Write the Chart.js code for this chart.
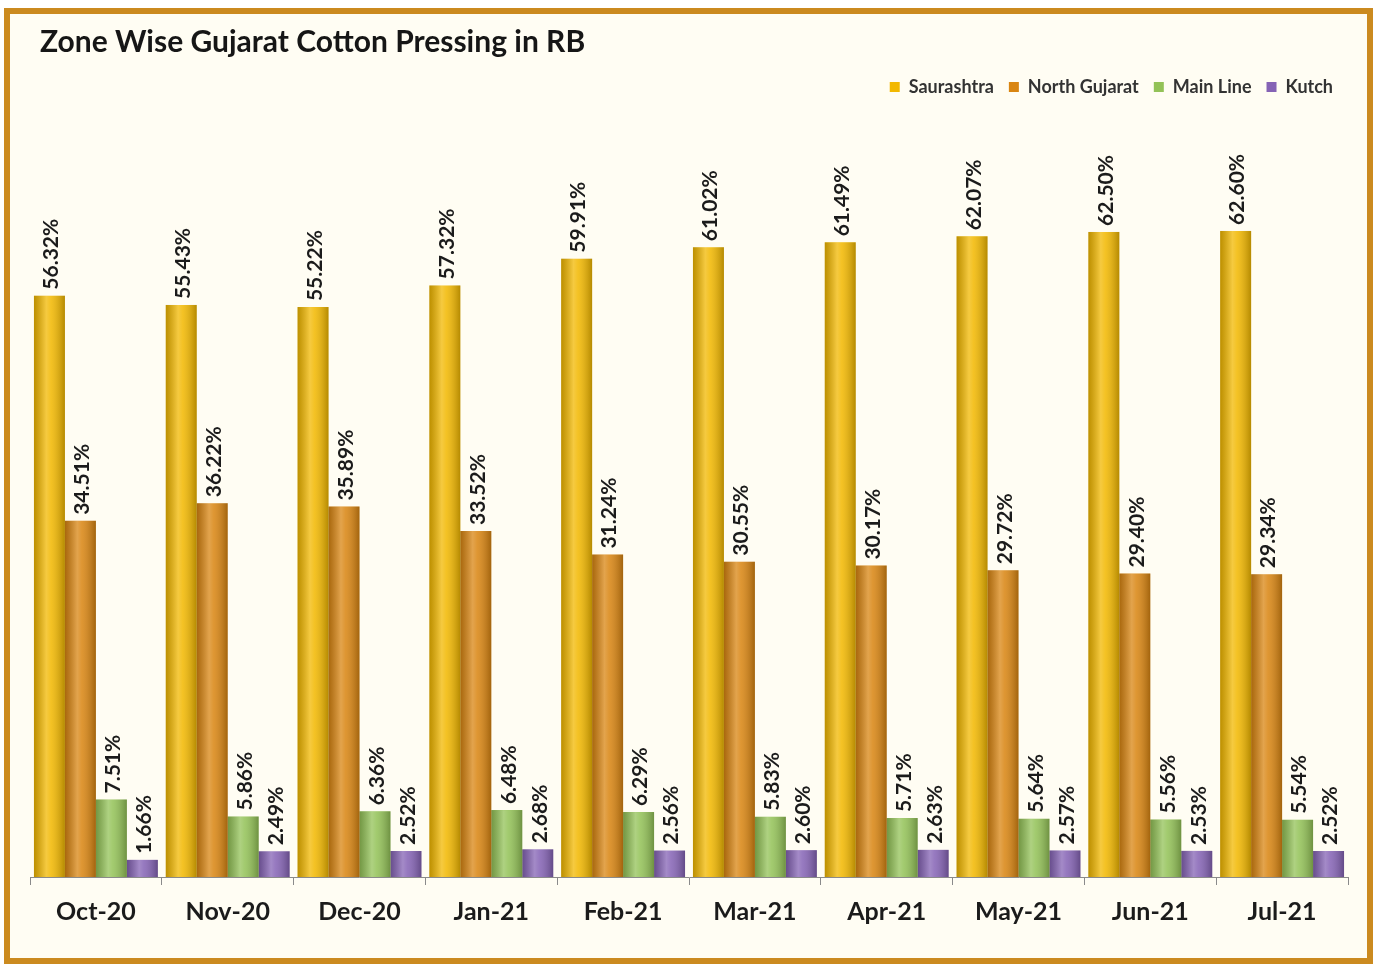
<!DOCTYPE html>
<html><head><meta charset="utf-8">
<script src="https://cdn.jsdelivr.net/npm/chart.js@4"></script>
<style>html,body{margin:0;padding:0;background:#fff;}#wrap{position:absolute;left:0;top:0;width:1378px;height:966px;}</style>
</head><body><div id="wrap"><canvas id="c" width="1378" height="966"></canvas></div>
<script>
const chartTitle = 'Zone Wise Gujarat Cotton Pressing in RB';
const categories = ['Oct-20','Nov-20','Dec-20','Jan-21','Feb-21','Mar-21','Apr-21','May-21','Jun-21','Jul-21'];
const saurashtra = [56.32,55.43,55.22,57.32,59.91,61.02,61.49,62.07,62.50,62.60];
const northGujarat = [34.51,36.22,35.89,33.52,31.24,30.55,30.17,29.72,29.40,29.34];
const mainLine = [7.51,5.86,6.36,6.48,6.29,5.83,5.71,5.64,5.56,5.54];
const kutch = [1.66,2.49,2.52,2.68,2.56,2.60,2.63,2.57,2.53,2.52];
const seriesNames = ['Saurashtra','North Gujarat','Main Line','Kutch'];
const seriesColors = ['#F2B800','#D98511','#93C257','#8563B5'];

const framePlugin = {
  id:'frame',
  beforeDraw(chart){
    const c = chart.ctx;
    c.save();
    c.fillStyle='#ffffff'; c.fillRect(0,0,chart.width,chart.height);
    c.fillStyle='#FFFDF3'; c.fillRect(7,11,1363,950);
    c.strokeStyle='#CB8A1F'; c.lineWidth=6; c.strokeRect(7,11,1363,950);
    c.font='bold 30px Lato'; c.fillStyle='#161616';
    c.textAlign='left'; c.textBaseline='middle';
    c.fillText(chartTitle,40,42);
    c.restore();
  }
};
const shadePlugin = {
  id:'shade',
  afterDatasetsDraw(chart){
    const c = chart.ctx;
    chart.data.datasets.forEach((ds,di)=>{
      const meta = chart.getDatasetMeta(di);
      meta.data.forEach((el,i)=>{
        const l = el.x - el.width/2, w = el.width, top = el.y, h = el.base - el.y;
        const g = c.createLinearGradient(l,0,l+w,0);
        g.addColorStop(0,'rgba(0,0,0,0.22)');
        g.addColorStop(0.4,'rgba(255,255,255,0.25)');
        g.addColorStop(0.55,'rgba(255,255,255,0.14)');
        g.addColorStop(1,'rgba(0,0,0,0.25)');
        c.save(); c.fillStyle=g; c.fillRect(l,top,w,h); c.restore();
      });
    });
    chart.data.datasets.forEach((ds,di)=>{
      const meta = chart.getDatasetMeta(di);
      meta.data.forEach((el,i)=>{
        c.save();
        c.translate(el.x+2, el.y-6);
        c.rotate(-Math.PI/2);
        c.font='bold 21px Lato';
        c.fillStyle='#1b1b1b';
        c.textAlign='left'; c.textBaseline='middle';
        c.fillText(ds.data[i].toFixed(2)+'%',0,0);
        c.restore();
      });
    });
  }
};

const datasets = [saurashtra,northGujarat,mainLine,kutch].map((d,i)=>({
  label: seriesNames[i], data: d, backgroundColor: seriesColors[i], borderWidth:0,
  categoryPercentage:0.94, barPercentage:1.0
}));

new Chart(document.getElementById('c'),{
  type:'bar',
  data:{labels:categories,datasets},
  options:{
    responsive:false, animation:false,
    layout:{padding:{left:30,right:30,top:63,bottom:27}},
    plugins:{
      title:{display:false},
      legend:{display:true,position:'top',align:'end',
        labels:{boxWidth:10,boxHeight:10,padding:15,color:'#333',font:{family:'Lato',size:18,weight:'bold'}}},
      tooltip:{enabled:false}
    },
    scales:{
      x:{grid:{display:true,offset:true,drawOnChartArea:false,drawTicks:true,tickLength:8,color:'#8a8a8a'},
         border:{display:true,color:'#8a8a8a',width:1},
         ticks:{color:'#1b1b1b',padding:12,font:{family:'Lato',size:25,weight:'bold'}}},
      y:{display:false,min:0,max:74.7}
    }
  },
  plugins:[framePlugin,shadePlugin]
});
</script></body></html>
